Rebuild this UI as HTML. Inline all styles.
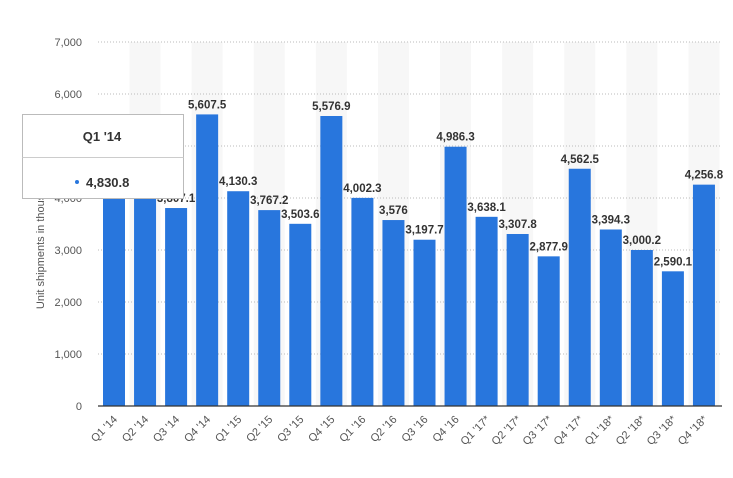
<!DOCTYPE html>
<html><head><meta charset="utf-8"><style>
body{margin:0;background:#fff;font-family:"Liberation Sans",sans-serif}
svg text{font-family:"Liberation Sans",sans-serif}
</style></head><body>
<svg width="733" height="473" id="c">
<g id="stripes"></g>
<g id="grid"></g>
<g id="bars"></g>
<text transform="translate(44,240) rotate(-90)" text-anchor="middle" font-size="11" fill="#555">Unit shipments in thousands</text>
<line x1="98" x2="722" y1="406" y2="406" stroke="#333" stroke-width="1.2"/>
<g>
<rect x="22.5" y="114.5" width="161" height="84" fill="#fff" stroke="#bbb"/>
<line x1="22.5" x2="183.5" y1="157.5" y2="157.5" stroke="#ccc"/>
<text x="102" y="141" text-anchor="middle" font-size="13" fill="#333" font-weight="bold">Q1 '14</text>
<circle cx="77" cy="182" r="2" fill="#2876dd"/>
<text x="86" y="187" font-size="13" font-weight="bold" fill="#333">4,830.8</text>
</g>
</svg>
<script>
const categories=["Q1 '14","Q2 '14","Q3 '14","Q4 '14","Q1 '15","Q2 '15","Q3 '15","Q4 '15","Q1 '16","Q2 '16","Q3 '16","Q4 '16","Q1 '17*","Q2 '17*","Q3 '17*","Q4 '17*","Q1 '18*","Q2 '18*","Q3 '18*","Q4 '18*"];
const values=[4830.8,4450,3807.1,5607.5,4130.3,3767.2,3503.6,5576.9,4002.3,3576,3197.7,4986.3,3638.1,3307.8,2877.9,4562.5,3394.3,3000.2,2590.1,4256.8];
const labels=["4,830.8","4,450","3,807.1","5,607.5","4,130.3","3,767.2","3,503.6","5,576.9","4,002.3","3,576","3,197.7","4,986.3","3,638.1","3,307.8","2,877.9","4,562.5","3,394.3","3,000.2","2,590.1","4,256.8"];
const yTicks=[0,1000,2000,3000,4000,5000,6000,7000];
const yTickLabels=["0","1,000","2,000","3,000","4,000","5,000","6,000","7,000"];
const NS="http://www.w3.org/2000/svg";
const y=v=>406-v*0.052;
const xc=i=>114+i*31.05;
function mk(t,a,p){const e=document.createElementNS(NS,t);for(const k in a)e.setAttribute(k,a[k]);p.appendChild(e);return e;}
const st=document.getElementById('stripes'),gr=document.getElementById('grid'),bs=document.getElementById('bars');
categories.forEach((c,i)=>{if(i%2==1){const r=mk('rect',{x:xc(i)-15.5,y:42,width:31,height:364,fill:'#f7f7f7'},st);

}});
yTicks.forEach((t,i)=>{
if(t>0){const l=mk('line',{x1:98,x2:722,y1:y(t),y2:y(t),stroke:'#bbb','stroke-dasharray':'1,2'},gr);

}
const tx=mk('text',{x:82,y:y(t)+4,'text-anchor':'end','font-size':11,fill:'#555'},gr);


tx.textContent=yTickLabels[i];});
categories.forEach((c,i)=>{
const b=mk('rect',{x:xc(i)-11,y:y(values[i]),width:22,height:values[i]*0.052,fill:'#2876dd'},bs);


const v=mk('text',{x:xc(i),y:y(values[i])-6,'text-anchor':'middle','font-size':11.5,fill:'#333','font-weight':'bold'},bs);


v.textContent=labels[i];
const xl=mk('text',{x:xc(i)+4,y:420,'text-anchor':'end','font-size':11,fill:'#555',transform:`rotate(-45 ${xc(i)+4} 420)`},bs);


xl.textContent=c;});
</script>
</body></html>
